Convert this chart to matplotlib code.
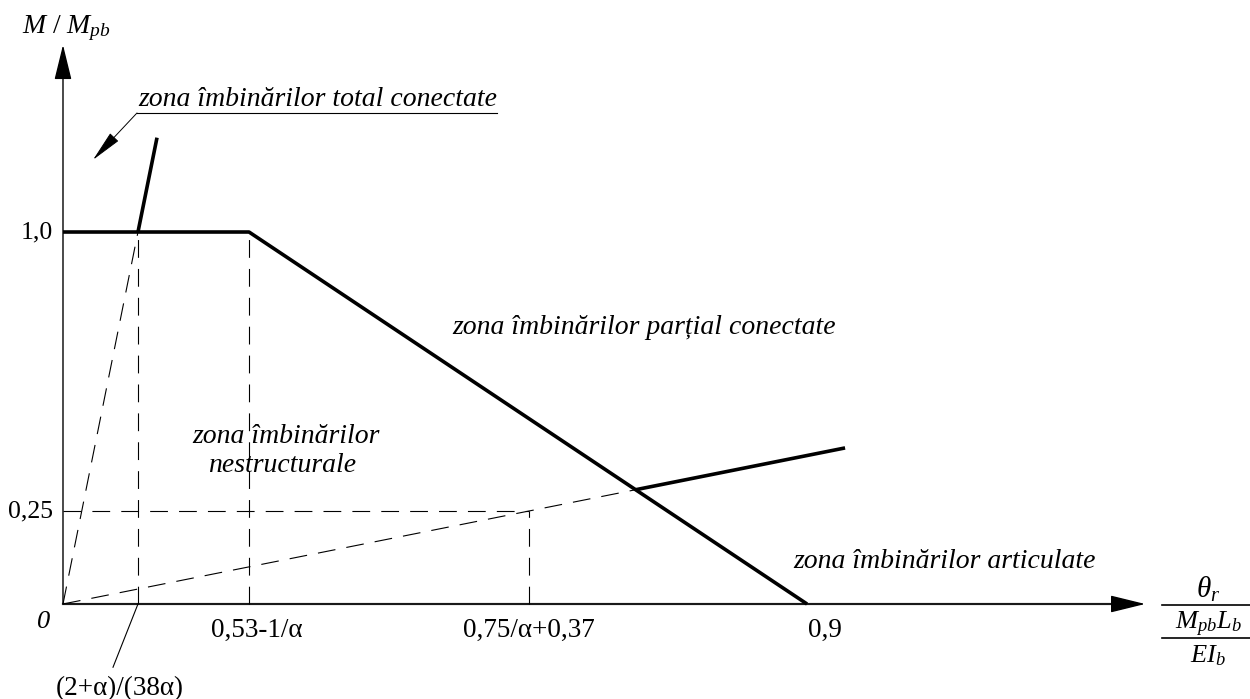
"""Moment-rotation classification of beam-to-column joints (EC3 style diagram)."""

import matplotlib

matplotlib.use("Agg")
import matplotlib.pyplot as plt  # noqa: E402

# key abscissae (theta_r / (M_pb L_b / E I_b)) and ordinates (M / M_pb)
x_rigid = 0.0907      # (2+a)/(38a)
x_knee = 0.225        # 0.53-1/a
x_pinned = 0.5637     # 0.75/a+0.37
x_end = 0.9
y_full = 1.0
y_pin = 0.25
x_rigid_top = 0.1137  # end of thick rigid branch
x_pin_end = 0.946     # end of thick pinned branch

tick_pos = [x_knee, x_pinned, x_end]
tick_text = ["0,53-1/α", "0,75/α+0,37", "0,9"]
tick_shift = [0.009, 0.0, 0.022]  # labels sit a little right of their mark
ytick_pos = [y_full, y_pin]
ytick_text = ["1,0", "0,25"]

plt.rcParams["font.family"] = ["Liberation Serif", "DejaVu Serif"]
plt.rcParams["mathtext.fontset"] = "custom"
plt.rcParams["mathtext.rm"] = "Liberation Serif"
plt.rcParams["mathtext.it"] = "Liberation Serif:italic"

fig = plt.figure(figsize=(12.5, 6.99), dpi=100)
ax = fig.add_axes([0, 0, 1, 1])
ax.set_xlim(-0.0762, 1.4358)
ax.set_ylim(-0.2554, 1.6237)
ax.axis("off")

thick = dict(color="black", lw=2.6, solid_capstyle="butt")
thin_dash = dict(color="black", lw=0.8, dashes=(16, 10))

# axes with arrows
axis_col = "#555555"
arrow_style = "-|>,head_length=1.1,head_width=0.27"
ax.annotate("", xy=(0, 1.503), xytext=(0, 0),
            arrowprops=dict(arrowstyle=arrow_style, color="black", lw=1.0,
                            mutation_scale=20, shrinkA=0, shrinkB=0))
ax.annotate("", xy=(1.309, 0), xytext=(0, 0),
            arrowprops=dict(arrowstyle=arrow_style, color="black", lw=1.0,
                            mutation_scale=20, shrinkA=0, shrinkB=0))
ax.plot([0, 1.28], [0, 0], color=axis_col, lw=1.6)

# slope of the rigid and pinned limits through the origin
k_rigid = y_full / x_rigid
k_pin = y_pin / x_pinned

# dashed construction lines
ax.plot([0, x_rigid], [0, y_full], **thin_dash)
ax.plot([x_rigid, x_rigid], [0, y_full], **thin_dash)
ax.plot([x_knee, x_knee], [0, y_full], **thin_dash)
ax.plot([0, x_pinned], [y_pin, y_pin], **thin_dash)
ax.plot([x_pinned, x_pinned], [0, y_pin], **thin_dash)

# intersection of pinned limit with the descending branch
slope_desc = (0 - y_full) / (x_end - x_knee)
x_int = (y_full - slope_desc * x_knee) / (k_pin - slope_desc)
ax.plot([0, x_int], [0, k_pin * x_int], **thin_dash)

# thick boundaries
ax.plot([0, x_knee, x_end], [y_full, y_full, 0], **thick)
ax.plot([x_rigid, x_rigid_top], [y_full, k_rigid * x_rigid_top], **thick)
ax.plot([x_int, x_pin_end], [k_pin * x_int, k_pin * x_pin_end], **thick)

fs = 19.5
# tick labels
for xp, t, dx in zip(tick_pos, tick_text, tick_shift):
    ax.text(xp + dx, -0.07, t, ha="center", va="center", fontsize=fs)
for yp, t in zip(ytick_pos, ytick_text):
    ax.text(-0.012, yp, t, ha="right", va="center", fontsize=18.5)
ax.text(-0.024, -0.048, "0", ha="center", va="center", fontsize=19, style="italic")
ax.text(0.069, -0.228, "(2+α)/(38α)", ha="center", va="center", fontsize=fs)
ax.plot([x_rigid, 0.0605], [0, -0.170], color="black", lw=0.8)

# axis titles
ax.text(-0.0496, 1.548, r"$M\ /\ M_{pb}$", ha="left", va="center", fontsize=20)
ax.text(1.385, 0.040, r"$\theta_r$", ha="center", va="center", fontsize=21)
ax.plot([1.329, 1.436], [-0.003, -0.003], color="black", lw=1.2, clip_on=False)
ax.text(1.385, -0.054, r"$M_{pb}L_b$", ha="center", va="center", fontsize=19)
ax.plot([1.329, 1.436], [-0.091, -0.091], color="black", lw=1.2, clip_on=False)
ax.text(1.385, -0.140, r"$EI_b$", ha="center", va="center", fontsize=19)

# zone labels
zs = dict(fontsize=20, style="italic")
ax.text(0.0907, 1.355, "zona îmbinărilor total conectate", ha="left", va="center", **zs)
ax.plot([0.0895, 0.525], [1.320, 1.320], color="black", lw=0.8)
ax.annotate("", xy=(0.0363, 1.194), xytext=(0.0895, 1.320),
            arrowprops=dict(arrowstyle="-|>,head_length=1.0,head_width=0.18",
                            color="black", lw=0.7, mutation_scale=20, shrinkA=0, shrinkB=0))
ax.text(0.4705, 0.742, "zona îmbinărilor parțial conectate", ha="left", va="center", **zs)
ax.text(0.157, 0.449, "zona îmbinărilor", ha="left", va="center", **zs)
ax.text(0.265, 0.371, "nestructurale", ha="center", va="center", **zs)
ax.text(0.883, 0.113, "zona îmbinărilor articulate", ha="left", va="center", **zs)

fig.savefig("out.png", dpi=100)
plt.close(fig)
